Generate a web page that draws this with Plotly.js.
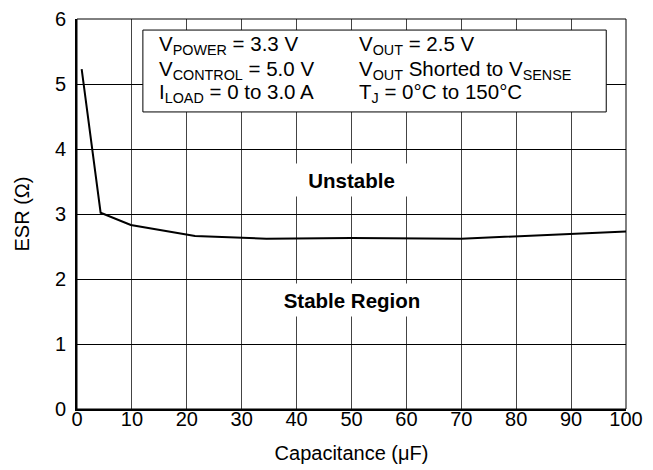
<!DOCTYPE html>
<html>
<head>
<meta charset="utf-8">
<script src="https://cdn.plot.ly/plotly-3.0.1.min.js"></script>
<style>html,body{margin:0;padding:0;background:#fff;}#chart{width:653px;height:470px;}</style>
</head>
<body>
<div id="chart"></div>
<script>
// Data
const capacitance = [0.85, 4.3, 9.8, 21.5, 34.5, 50, 70, 100];
const esr = [5.23, 3.02, 2.83, 2.66, 2.62, 2.63, 2.62, 2.73];
const xTicks = [0, 10, 20, 30, 40, 50, 60, 70, 80, 90, 100];
const yTicks = [0, 1, 2, 3, 4, 5, 6];
const conditionsLeft = ["V<sub>POWER</sub> = 3.3 V", "V<sub>CONTROL</sub> = 5.0 V", "I<sub>LOAD</sub> = 0 to 3.0 A"];
const conditionsRight = ["V<sub>OUT</sub> = 2.5 V", "V<sub>OUT</sub> Shorted to V<sub>SENSE</sub>", "T<sub>J</sub> = 0°C to 150°C"];
const regionLabels = ["Unstable", "Stable Region"];

const font = {family: 'Liberation Sans, Arial, sans-serif', color: '#000'};
const f = (s) => Object.assign({size: s}, font);

const trace = {
  x: capacitance, y: esr, type: 'scatter', mode: 'lines',
  line: {color: '#000', width: 2}, hoverinfo: 'skip', showlegend: false
};

// vertical pixel centres of the three text rows inside the box
const rowPx = [45, 70, 93];
const condAnnotations = [];
conditionsLeft.forEach((t, i) => condAnnotations.push({
  xref: 'x', yref: 'paper', x: 14.6, y: (409 - rowPx[i]) / 390, xanchor: 'left', yanchor: 'middle',
  align: 'left', showarrow: false, text: t, font: f(20.5)
}));
conditionsRight.forEach((t, i) => condAnnotations.push({
  xref: 'x', yref: 'paper', x: 51.0, y: (409 - rowPx[i]) / 390, xanchor: 'left', yanchor: 'middle',
  align: 'left', showarrow: false, text: t, font: f(20.5)
}));

const layout = {
  width: 653, height: 470,
  margin: {l: 77, r: 27, t: 19, b: 61},
  paper_bgcolor: '#fff', plot_bgcolor: '#fff',
  font: f(20),
  xaxis: {
    range: [0, 100], tickvals: xTicks, ticktext: xTicks.map(String),
    showgrid: true, gridcolor: '#444', gridwidth: 1,
    zeroline: false, showline: true, linecolor: '#000', linewidth: 2,
    ticks: '', ticklabelstandoff: -9,
    tickfont: f(20),
    title: {text: 'Capacitance (μF)', font: f(20), standoff: 17}
  },
  yaxis: {
    range: [0, 6], tickvals: yTicks, ticktext: yTicks.map(String),
    showgrid: true, gridcolor: '#000', gridwidth: 1,
    zeroline: false, showline: true, linecolor: '#000', linewidth: 2,
    ticks: '', ticklabelstandoff: 5,
    tickfont: f(20),
    title: {text: 'ESR (Ω)', font: f(20), standoff: 20}
  },
  shapes: [
    {type: 'rect', xref: 'paper', yref: 'paper', x0: 0, x1: 1, y0: 0, y1: 1,
     line: {color: '#000', width: 1}, fillcolor: 'rgba(0,0,0,0)', layer: 'above'},
    {type: 'rect', xref: 'x', yref: 'y', x0: 12.0, x1: 96.4, y0: 4.57, y1: 5.83,
     line: {color: '#000', width: 1}, fillcolor: '#fff', layer: 'above'}
  ],
  annotations: condAnnotations.concat([
    {xref: 'x', yref: 'y', x: 50, y: 3.52, showarrow: false, text: '<b>' + regionLabels[0] + '</b>',
     font: f(20.5), bgcolor: '#fff', width: 125, height: 30},
    {xref: 'x', yref: 'y', x: 50, y: 1.67, showarrow: false, text: '<b>' + regionLabels[1] + '</b>',
     font: f(20.5), bgcolor: '#fff', width: 150, height: 30}
  ])
};

Plotly.newPlot('chart', [trace], layout, {staticPlot: true, displayModeBar: false});
</script>
</body>
</html>
